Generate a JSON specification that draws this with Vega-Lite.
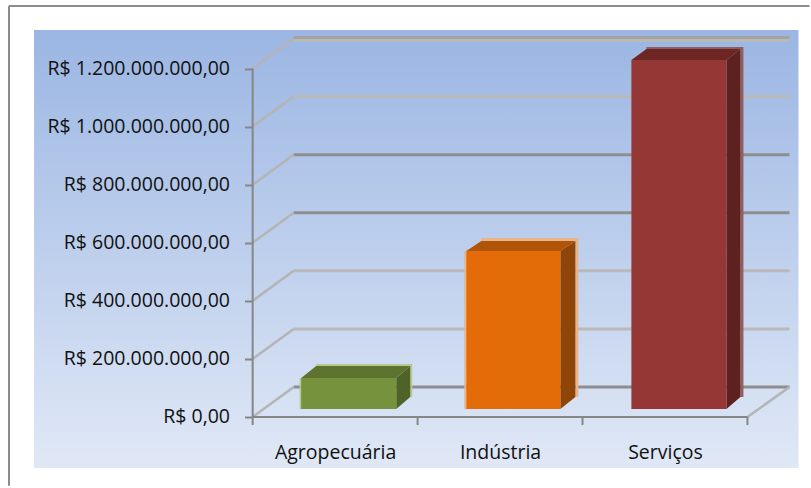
{
"$schema":"https://vega.github.io/schema/vega-lite/v6.json",
"width":811,"height":488,"padding":0,
"autosize":{"type":"fit","contains":"padding"},
"background":"white",
"config":{"view":{"stroke":null},"locale":{"number":{"decimal":",","thousands":".","grouping":[3],"currency":["R$ ",""]}}},
"datasets":{
"painel":[{"x":-1.3256,"x2":3.3095,"y":1332600000,"y2":-175600000}],
"borda":[{"x":-1.4773,"x2":-1.4773,"y":1415200000,"y2":-237000000},{"x":-1.4773,"x2":3.376,"y":1415200000,"y2":1415200000}],
"eixo":[{"x":0,"x2":3,"y":0,"y2":0},{"x":0,"x2":0,"y":0,"y2":1200000000},{"x":0,"x2":0,"y":0,"y2":-27500000},{"x":1,"x2":1,"y":0,"y2":-27500000},{"x":2,"x2":2,"y":0,"y2":-27500000},{"x":3,"x2":3,"y":0,"y2":-27500000}],
"gradeEscura":[{"x":0.2487,"x2":3.255,"y":103300000,"y2":103300000},{"x":0.2487,"x2":3.255,"y":703300000,"y2":703300000},{"x":0.2487,"x2":3.255,"y":903300000,"y2":903300000}],
"gradeClara":[{"x":0.2487,"x2":3.255,"y":303300000,"y2":303300000},{"x":0.2487,"x2":3.255,"y":503300000,"y2":503300000},{"x":0.2487,"x2":3.255,"y":1103300000,"y2":1103300000},{"x":0.2487,"x2":3.255,"y":1296400000,"y2":1296400000}],
"gradeTopo":[{"x":0.2487,"x2":3.255,"y":1306700000,"y2":1306700000}],
"diagonais":[{"x":0,"x2":0.2487,"y":0,"y2":103300000},{"x":0,"x2":0.2487,"y":200000000,"y2":303300000},{"x":0,"x2":0.2487,"y":400000000,"y2":503300000},{"x":0,"x2":0.2487,"y":600000000,"y2":703300000},{"x":0,"x2":0.2487,"y":800000000,"y2":903300000},{"x":0,"x2":0.2487,"y":1000000000,"y2":1103300000},{"x":0,"x2":0.2487,"y":1200000000,"y2":1303300000},{"x":3,"x2":3.255,"y":0,"y2":103300000}],
"frente":[{"categoria":"Agropecuária","x":0.2942,"x2":0.8706,"y":134300000,"y2":27500000},{"categoria":"Indústria","x":1.2953,"x2":1.8656,"y":571600000,"y2":27500000},{"categoria":"Serviços","x":2.2963,"x2":2.8726,"y":1229300000,"y2":27500000}],
"lateral":[{"categoria":"Agropecuária","x":0.8706,"y":134300000,"y2":27500000},{"categoria":"Agropecuária","x":0.9555,"y":175600000,"y2":68900000},{"categoria":"Indústria","x":1.8656,"y":571600000,"y2":27500000},{"categoria":"Indústria","x":1.9566,"y":606000000,"y2":68900000},{"categoria":"Serviços","x":2.8726,"y":1229300000,"y2":27500000},{"categoria":"Serviços","x":2.9575,"y":1267200000,"y2":68900000}],
"topo":[{"categoria":"Agropecuária","y":134300000,"x":0.2942,"x2":0.8706},{"categoria":"Agropecuária","y":175600000,"x":0.3852,"x2":0.9555},{"categoria":"Indústria","y":571600000,"x":1.2953,"x2":1.8656},{"categoria":"Indústria","y":606000000,"x":1.3863,"x2":1.9566},{"categoria":"Serviços","y":1229300000,"x":2.2963,"x2":2.8726},{"categoria":"Serviços","y":1267200000,"x":2.3873,"x2":2.9575}],
"reflexo":[{"categoria":"Agropecuária","x":0.9555,"x2":0.9676,"y":175600000,"y2":68900000},{"categoria":"Agropecuária","x":0.3852,"x2":0.9676,"y":182500000,"y2":175600000},{"categoria":"Agropecuária","x":0.2852,"x2":0.2972,"y":134300000,"y2":27500000},{"categoria":"Indústria","x":1.9566,"x2":1.9748,"y":606000000,"y2":68900000},{"categoria":"Indústria","x":1.3863,"x2":1.9748,"y":616000000,"y2":606000000},{"categoria":"Indústria","x":1.2833,"x2":1.2953,"y":571600000,"y2":27500000},{"categoria":"Serviços","x":2.9575,"x2":2.9757,"y":1267200000,"y2":68900000},{"categoria":"Serviços","x":2.3873,"x2":2.9757,"y":1274000000,"y2":1267200000}]
},
"encoding":{
"x":{"field":"x","type":"quantitative","title":null,"scale":{"domain":[-1.5319,3.3853],"nice":false,"zero":false},
 "axis":{"orient":"bottom","offset":-71,"values":[0.5,1.5,2.5],"labelExpr":"datum.value==0.5?'Agropecuária':datum.value==1.5?'Indústria':'Serviços'","ticks":false,"domain":false,"grid":false,"labelPadding":26,"labelFont":"Open Sans","labelFontSize":19.5,"labelColor":"#111111","labelFontWeight":"normal","zindex":1}},
"y":{"field":"y","type":"quantitative","title":null,"scale":{"domain":[-244500000,1435900000],"nice":false,"zero":false},
 "axis":{"orient":"left","offset":-252.5,"values":[0,200000000,400000000,600000000,800000000,1000000000,1200000000],"format":"$,.2f","domain":false,"grid":false,"tickSize":8,"tickColor":"#868686","tickWidth":2,"labelPadding":15,"labelLimit":300,"labelFont":"Open Sans","labelFontSize":19.5,"labelColor":"#111111","zindex":1}}
},
"layer":[
{"data":{"name":"borda"},"mark":{"type":"rule","color":"#8c8c8c","strokeWidth":2},"encoding":{"x2":{"field":"x2"},"y2":{"field":"y2"}}},
{"data":{"name":"painel"},"mark":{"type":"rect","color":{"gradient":"linear","x1":0,"y1":0,"x2":0,"y2":1,"stops":[{"offset":0,"color":"#9bb6e3"},{"offset":1,"color":"#e0e8f6"}]}},"encoding":{"x2":{"field":"x2"},"y2":{"field":"y2"}}},
{"data":{"name":"gradeClara"},"mark":{"type":"rule","color":"#b9b9b9","strokeWidth":3},"encoding":{"x2":{"field":"x2"},"y2":{"field":"y2"}}},
{"data":{"name":"gradeEscura"},"mark":{"type":"rule","color":"#8e8e8e","strokeWidth":3},"encoding":{"x2":{"field":"x2"},"y2":{"field":"y2"}}},
{"data":{"name":"gradeTopo"},"mark":{"type":"rule","color":"#a3a3a3","strokeWidth":3},"encoding":{"x2":{"field":"x2"},"y2":{"field":"y2"}}},
{"data":{"name":"diagonais"},"mark":{"type":"rule","color":"#b4b4b4","strokeWidth":2.5},"encoding":{"x2":{"field":"x2"},"y2":{"field":"y2"}}},
{"data":{"name":"eixo"},"mark":{"type":"rule","color":"#868686","strokeWidth":2},"encoding":{"x2":{"field":"x2"},"y2":{"field":"y2"}}},
{"data":{"name":"reflexo"},"mark":{"type":"rect"},"encoding":{"x2":{"field":"x2"},"y2":{"field":"y2"},"color":{"field":"categoria","type":"nominal","legend":null,"scale":{"domain":["Agropecuária","Indústria","Serviços"],"range":["#b6c88c","#e8b48a","#8f5f60"]}}}},
{"data":{"name":"lateral"},"mark":{"type":"area","orient":"vertical","opacity":1},"encoding":{"y2":{"field":"y2"},"color":{"field":"categoria","type":"nominal","legend":null,"scale":{"domain":["Agropecuária","Indústria","Serviços"],"range":["#4f6228","#8f4507","#5f2120"]}}}},
{"data":{"name":"topo"},"mark":{"type":"area","orient":"horizontal","opacity":1},"encoding":{"x2":{"field":"x2"},"color":{"field":"categoria","type":"nominal","legend":null,"scale":{"domain":["Agropecuária","Indústria","Serviços"],"range":["#5e7330","#b05408","#6e2625"]}}}},
{"data":{"name":"frente"},"mark":{"type":"rect"},"encoding":{"x2":{"field":"x2"},"y2":{"field":"y2"},"color":{"field":"categoria","type":"nominal","legend":null,"scale":{"domain":["Agropecuária","Indústria","Serviços"],"range":["#76923c","#e36c09","#953735"]}}}}
],
"resolve":{"scale":{"color":"independent"}}
}
